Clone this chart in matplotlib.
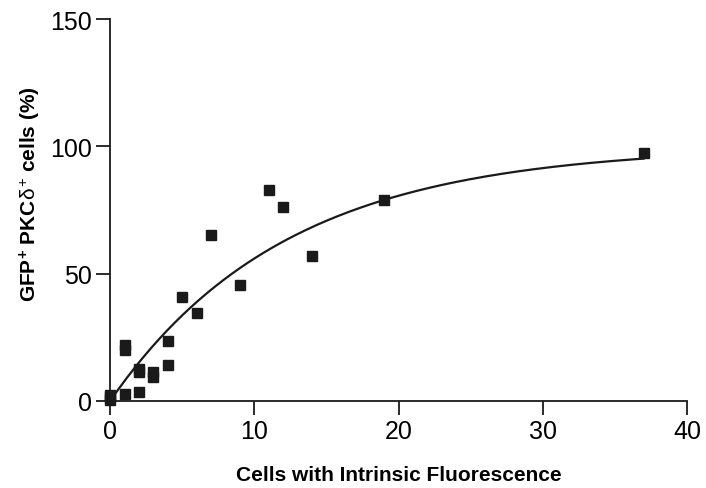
import numpy as np
import matplotlib
matplotlib.use("Agg")
import matplotlib.pyplot as plt

# data
cells_if = [0, 0, 0, 1, 1, 1, 2, 2, 2, 3, 3, 4, 4, 5, 6, 7, 9, 11, 12, 14, 19, 37]
gfp_pkc = [0.5, 1.5, 2.5, 2.8, 19.9, 21.8, 3.7, 11.5, 12.5, 9.4, 11.5, 14, 23.7, 41, 34.5, 65, 45.5, 83, 76, 57, 79, 97.5]

# one-phase association fit, parameters
fit_ymax = 100.0
fit_k = 0.082
fit_xmax = 37

x_ticks = [0, 10, 20, 30, 40]
y_ticks = [0, 50, 100, 150]

plt.rcParams["font.family"] = ["Liberation Sans", "DejaVu Sans"]
plt.rcParams["mathtext.fontset"] = "custom"
plt.rcParams["mathtext.rm"] = "Liberation Sans"
plt.rcParams["mathtext.it"] = "Liberation Sans"
plt.rcParams["mathtext.bf"] = "Liberation Sans:bold"

fig = plt.figure(figsize=(7.06, 4.89), dpi=100)
ax = fig.add_axes([0.156, 0.178, 0.817, 0.781])

xf = np.linspace(0, fit_xmax, 200)
ax.plot(xf, fit_ymax * (1 - np.exp(-fit_k * xf)), color="#1a1a1a", lw=1.6, clip_on=False)
ax.plot(cells_if, gfp_pkc, "s", color="#1a1a1a", ms=6.5, clip_on=False, zorder=3)

ax.set_xlim(0, 40); ax.set_ylim(0, 150)
ax.set_xticks(x_ticks); ax.set_yticks(y_ticks)
for s in ("top", "right"):
    ax.spines[s].set_visible(False)
for s in ("left", "bottom"):
    ax.spines[s].set_linewidth(1.3); ax.spines[s].set_color("#1a1a1a")
ax.tick_params(direction="out", length=10, width=1.3, color="#1a1a1a", labelsize=18, pad=3)

ax.set_xlabel("Cells with Intrinsic Fluorescence", fontsize=15, fontweight="bold", labelpad=16)
ax.set_ylabel(r"GFP$^{\mathbf{+}}$ PKC$\delta^{+}$ cells (%)", fontsize=15, fontweight="bold")
ax.yaxis.set_label_coords(-0.116, 0.543)

fig.savefig("out.png", dpi=100)
